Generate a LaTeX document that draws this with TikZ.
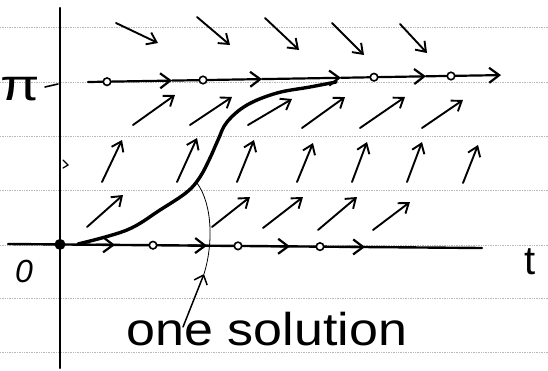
\documentclass[tikz,border=0pt]{standalone}
\usepackage{fontspec}
\setmainfont{Liberation Sans}
\usetikzlibrary{arrows.meta}
\begin{document}
\begin{tikzpicture}[x=1pt,y=-1pt,
  ruled/.style={gray!55, line width=0.7pt, densely dotted},
  axisline/.style={line width=2.4pt, line cap=round},
  slopearrow/.style={line width=1.9pt, line cap=round, -{Straight Barb[length=9pt,width=13pt]}},
  flowarrow/.style={line width=2.2pt, line cap=round, -{Straight Barb[length=10pt,width=15pt]}},
  soln/.style={line width=3.4pt, line cap=round},
  eqdot/.style={circle, draw, line width=1.6pt, minimum size=7.5pt, inner sep=0pt, fill=white},
  handtext/.style={inner sep=0pt}]
\useasboundingbox (0,0) rectangle (548,370);
\fill[white] (0,0) rectangle (548,370);

% ruled paper lines
\foreach \yy in {27,82,136,190,245,298,352}
  \draw[ruled] (0,\yy) -- (548,\yy);

% axes
\draw[axisline] (60,8) -- (60,368);
\draw[axisline] (8,244) -- (482,248);
\draw[line width=1.6pt, line cap=round] (45,87) -- (58,84);
\draw[line width=1.2pt, line cap=round] (63,160) -- (68,165) -- (63,168);

% top row (above pi): down-right
\foreach \a/\b/\c/\d in {116/23/158/43, 197/17/230/45, 265/18/299/50, 332/23/364/55, 400/24/427/53}
  \draw[slopearrow] (\a,\b) -- (\c,\d);

% equilibrium y = pi
\draw[flowarrow] (88,82) -- (172,80.6);
\draw[flowarrow] (172,80.6) -- (262,79.1);
\draw[flowarrow] (262,79.1) -- (341,77.8);
\draw[flowarrow] (341,77.8) -- (426,76.3);
\draw[flowarrow] (426,76.3) -- (501,75.1);
\node[eqdot] (p1) at (107,81.7) {};
\node[eqdot] (p2) at (203,80) {};
\node[eqdot] (p3) at (374,77.2) {};
\node[eqdot] (p4) at (451,76) {};

% row below pi: up-right
\foreach \a/\b/\c/\d in {133/125/175/95, 190/125/232/97, 248/125/292/99, 302/128/345/97, 360/128/405/97, 422/128/463/100}
  \draw[slopearrow] (\a,\b) -- (\c,\d);

% steep row
\foreach \a/\b/\c/\d in {102/182/122/140, 177/182/197/138, 237/182/254/140, 297/182/313/143, 352/182/367/142, 407/182/422/142, 463/183/478/145}
  \draw[slopearrow] (\a,\b) -- (\c,\d);

% row above t-axis
\foreach \a/\b/\c/\d in {87/227/123/195, 212/227/250/197, 263/228/303/197, 318/230/357/197, 373/230/410/202}
  \draw[slopearrow] (\a,\b) -- (\c,\d);

% equilibrium y = 0 (arrowheads on the axis)
\foreach \xa/\xb in {96/115, 188/207, 271/290, 346/365}
  \draw[flowarrow] (\xa,{244+4*(\xa-8)/474}) -- (\xb,{244+4*(\xb-8)/474});
\node[circle, fill, inner sep=0pt, minimum size=11pt] (o) at (60,244.4) {};
\node[eqdot] (z1) at (153,245.2) {};
\node[eqdot] (z2) at (238,245.9) {};
\node[eqdot] (z3) at (320,246.6) {};

% solution curve
\draw[soln] plot[smooth, tension=0.6] coordinates {(78,244) (127,230) (160,210) (187,192) (200,177) (210,158) (218,140) (227,122) (247,105) (277,93) (310,87) (336,82)};

% thin highlighting arc
\coordinate (arctop) at (197,183);
\coordinate (arctip) at (204,274);
\draw[line width=0.8pt] (arctop) .. controls (213,205) and (213,245) .. (arctip);

% labels
\node[handtext, font=\fontsize{44}{44}\selectfont, xscale=1.3] (pi) at (20,89) {π};
\node[handtext, font=\fontsize{32}{32}\selectfont\itshape] (zero) at (24,271) {0};
\node[handtext, font=\fontsize{40}{40}\selectfont] (t) at (530,262) {t};
\node[handtext, font=\fontsize{46}{46}\selectfont, xscale=1.13, anchor=base] (lbl) at (267,345) {one solution};
\coordinate (foot) at (183,327);
\draw[line width=1.5pt, line cap=round, -{Straight Barb[length=8pt,width=14pt]}] (foot) -- (arctip);
\end{tikzpicture}
\end{document}
